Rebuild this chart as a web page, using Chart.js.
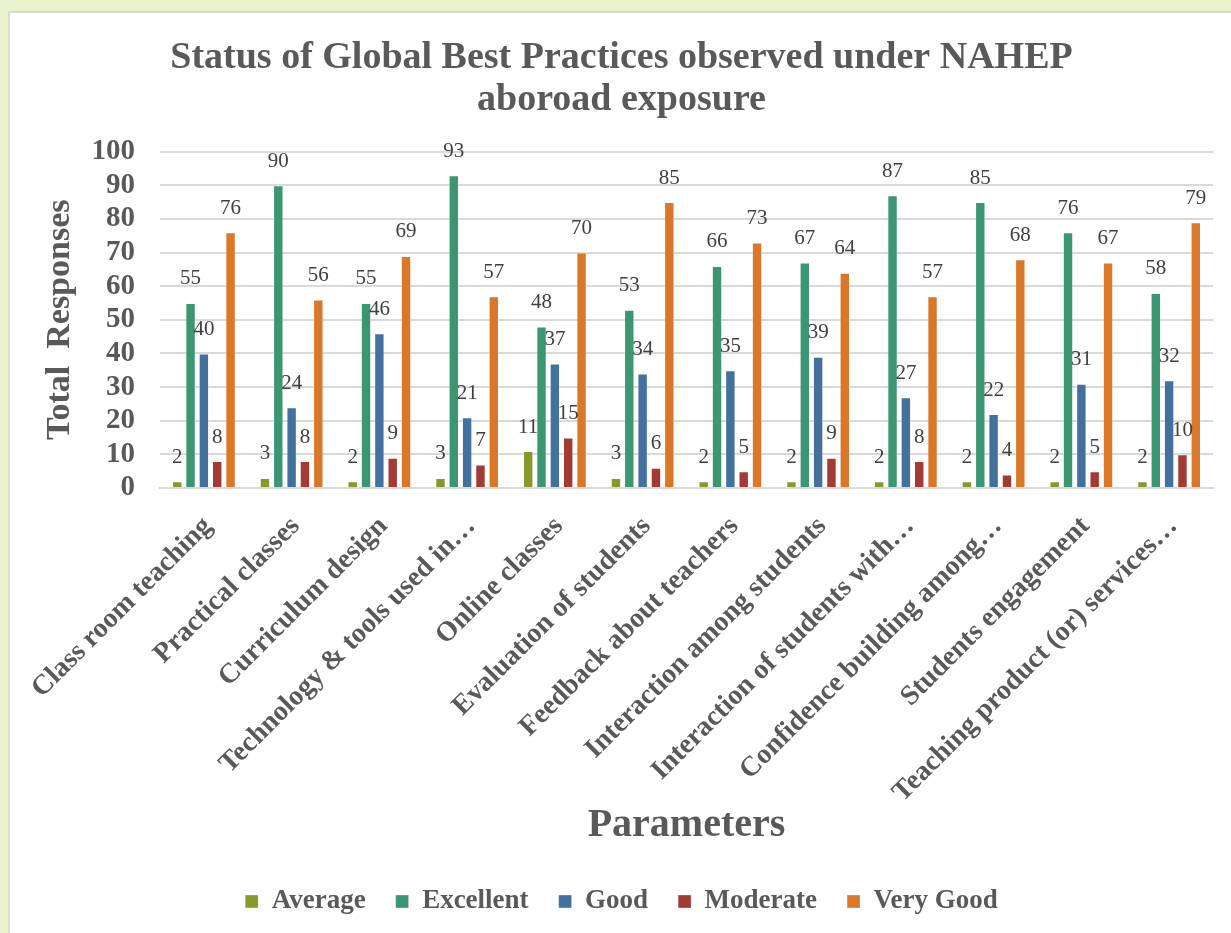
<!DOCTYPE html>
<html>
<head>
<meta charset="utf-8">
<script src="https://cdn.jsdelivr.net/npm/chart.js@4.4.1/dist/chart.umd.min.js"></script>
<style>
  html, body { margin: 0; padding: 0; background: #eaf1cd; }
  #wrap { position: relative; width: 1231px; height: 933px; }
</style>
</head>
<body>
<div id="wrap"><canvas id="chart" width="1231" height="933"></canvas></div>
<script>
'use strict';

/* ── DATA ── */
const categories = [
  'Class room teaching',
  'Practical classes',
  'Curriculum design',
  'Technology & tools used in…',
  'Online classes',
  'Evaluation of students',
  'Feedback about teachers',
  'Interaction among students',
  'Interaction of students with…',
  'Confidence building among…',
  'Students engagement',
  'Teaching product (or) services…',
];

const average   = [2, 3, 2, 3, 11, 3, 2, 2, 2, 2, 2, 2];
const excellent = [55, 90, 55, 93, 48, 53, 66, 67, 87, 85, 76, 58];
const good      = [40, 24, 46, 21, 37, 34, 35, 39, 27, 22, 31, 32];
const moderate  = [8, 8, 9, 7, 15, 6, 5, 9, 8, 4, 5, 10];
const veryGood  = [76, 56, 69, 57, 70, 85, 73, 64, 57, 68, 67, 79];

const seriesNames = ['Average', 'Excellent', 'Good', 'Moderate', 'Very Good'];
const seriesData  = [average, excellent, good, moderate, veryGood];
const colors      = ['#86992a', '#3c9672', '#44709d', '#a33a33', '#da7729'];

const SERIF = "'Liberation Serif', 'DejaVu Serif', serif";
const GREY  = '#595959';

/* ── PLUGINS ── */
const frame = {
  id: 'frame',
  beforeDraw(chart) {
    const { ctx, width, height } = chart;
    ctx.save();
    ctx.fillStyle = '#eaf1cd';
    ctx.fillRect(0, 0, width, height);
    ctx.fillStyle = '#ffffff';
    ctx.fillRect(9, 12, width - 9, height - 12);
    ctx.strokeStyle = '#d3d3cb';
    ctx.lineWidth = 1.5;
    ctx.beginPath();
    ctx.moveTo(9, height);
    ctx.lineTo(9, 12);
    ctx.lineTo(width, 12);
    ctx.stroke();
    ctx.restore();
  },
};

const valueLabels = {
  id: 'valueLabels',
  afterDatasetsDraw(chart) {
    const { ctx } = chart;
    ctx.save();
    ctx.font = '21px ' + SERIF;
    ctx.fillStyle = '#404040';
    ctx.textAlign = 'center';
    ctx.textBaseline = 'middle';
    chart.data.datasets.forEach((ds, i) => {
      chart.getDatasetMeta(i).data.forEach((bar, j) => {
        ctx.fillText(String(ds.data[j]), bar.x, bar.y - 24);
      });
    });
    ctx.restore();
  },
};

/* ── CHART ── */
new Chart(document.getElementById('chart'), {
  type: 'bar',
  data: {
    labels: categories,
    datasets: seriesNames.map((name, i) => ({
      label: name,
      data: seriesData[i],
      backgroundColor: colors[i],
      borderColor: 'rgba(255,255,255,0.35)',
      borderWidth: 1,
      categoryPercentage: 0.76,
      barPercentage: 0.78,
    })),
  },
  options: {
    responsive: false,
    animation: false,
    layout: { padding: { left: 30, right: 18, top: 12, bottom: 8 } },
    plugins: {
      tooltip: { enabled: false },
      title: {
        display: true,
        text: ['Status of Global Best Practices observed under NAHEP', 'aboroad exposure'],
        color: GREY,
        font: { family: SERIF, size: 38, weight: 'bold', lineHeight: 1.1 },
        padding: { top: 25, bottom: 31 },
      },
      legend: {
        position: 'bottom',
        labels: {
          color: GREY,
          font: { family: SERIF, size: 27, weight: 'bold' },
          boxWidth: 13,
          boxHeight: 13,
          padding: 30,
        },
      },
    },
    scales: {
      x: {
        afterFit: s => { s.height = 370; },
        grid: { display: false },
        border: { display: true, color: '#d9d9d9', width: 2 },
        ticks: {
          color: GREY,
          font: { family: SERIF, size: 28, weight: 'bold' },
          minRotation: 45,
          maxRotation: 45,
          autoSkip: false,
          padding: 14,
          labelOffset: 4,
        },
        title: {
          display: true,
          text: 'Parameters',
          color: GREY,
          font: { family: SERIF, size: 40, weight: 'bold' },
          padding: { top: 0, bottom: 8 },
        },
      },
      y: {
        min: 0,
        max: 100,
        afterFit: s => { s.width = 130; },
        border: { display: false },
        grid: { color: '#d9d9d9', lineWidth: 2, drawTicks: false },
        ticks: {
          stepSize: 10,
          autoSkip: false,
          color: GREY,
          font: { family: SERIF, size: 29, weight: 'bold' },
          padding: 25,
        },
        title: {
          display: true,
          text: 'Total  Responses',
          color: GREY,
          font: { family: SERIF, size: 34, weight: 'bold' },
          padding: { top: 10, bottom: 0 },
        },
      },
    },
  },
  plugins: [frame, valueLabels],
});
</script>
</body>
</html>
